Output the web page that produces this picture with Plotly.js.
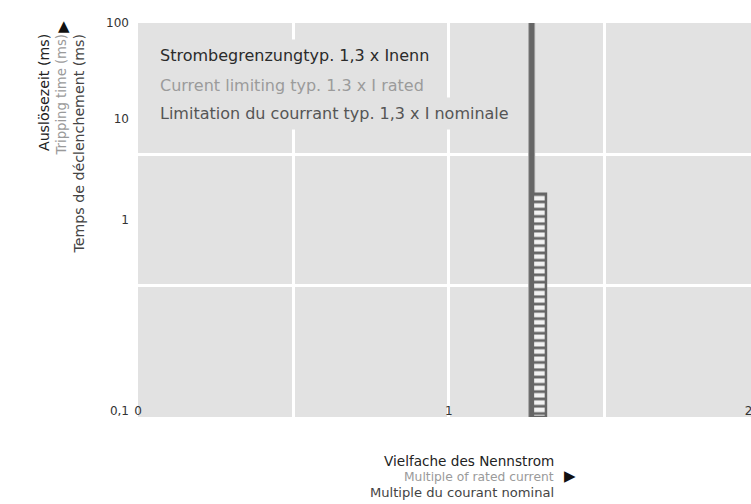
<!DOCTYPE html>
<html>
<head>
<meta charset="utf-8">
<script src="https://cdn.plot.ly/plotly-3.0.1.min.js"></script>
<style>html,body{margin:0;padding:0;background:#fff;}#chart{width:751px;height:504px;}</style>
</head>
<body>
<div id="chart"></div>
<script>
// ---- data ----
const limitLineX = [1.267, 1.267];          // current limiting line (multiple of rated current)
const limitLineY = [0.1, 100];              // spans full tripping-time range (ms)
const bandX = [1.267, 1.267, 1.313, 1.313, 1.267]; // hatched tolerance band outline
const bandY = [0.1, 5.0, 5.0, 0.1, 0.1];           // tripping time (ms)
const xTickVals = [0, 1, 1.965];
const xTickText = ['0', '1', '2'];
const xGridVals = [0.5, 1, 1.5];
const yTickVals = [100, 18.6, 3.2, 0.111];
const yTickText = ['100', '10', '1', '0,1'];
const yGridVals = [1, 10];
const legendLines = ['Strombegrenzungtyp. 1,3 x Inenn', 'Current limiting typ. 1.3 x I rated', 'Limitation du courrant typ. 1,3 x I nominale'];
const yTitleLines = ['Auslösezeit (ms)', 'Tripping time (ms)', 'Temps de déclenchement (ms)'];
const xTitleLines = ['Vielfache des Nennstrom', 'Multiple of rated current', 'Multiple du courant nominal'];

const bg = '#e2e2e2';
const dark = '#666666';

const traces = [
  {x: limitLineX, y: limitLineY, mode: 'lines', line: {color: '#a3a3a3', width: 7}, hoverinfo: 'skip', showlegend: false},
  {x: bandX, y: bandY, mode: 'lines', fill: 'toself', fillcolor: '#f2f2f2',
   fillpattern: {shape: '-', size: 7.3, solidity: 0.38, fgcolor: dark, bgcolor: '#f2f2f2', fillmode: 'replace'},
   line: {color: dark, width: 2.5}, hoverinfo: 'skip', showlegend: false},
  {x: limitLineX, y: limitLineY, mode: 'lines', line: {color: dark, width: 5}, hoverinfo: 'skip', showlegend: false}
];

// pixel helpers for paper-coordinate annotation placement (plot area 137.5..751 x 23..417)
const px = v => (v - 137.5) / 613.5;
const py = v => (417 - v) / 394;

const lineColors = ['#2b2b2b', '#9b9b9b', '#555555'];
const titleColors = ['#222222', '#9a9a9a', '#444444'];
const ann = [];
const legY = [55, 85, 114];
legendLines.forEach((t, i) => ann.push({
  text: t, xref: 'paper', yref: 'paper', x: px(153), y: py(legY[i]), xanchor: 'left', yanchor: 'middle',
  showarrow: false, bgcolor: bg, borderpad: 6, font: {family: 'DejaVu Sans', size: 16, color: lineColors[i]}
}));
const yTX = [44, 61, 78];
const yTSize = [14.2, 13.2, 14.2];
yTitleLines.forEach((t, i) => ann.push({
  text: t, xref: 'paper', yref: 'paper', x: px(yTX[i]), y: py(33), xanchor: 'center', yanchor: 'top', textangle: -90,
  showarrow: false, borderpad: 0, font: {family: 'DejaVu Sans', size: yTSize[i], color: titleColors[i]}
}));
const xTY = [461, 477, 493];
const xTSize = [13.6, 12.3, 13.1];
xTitleLines.forEach((t, i) => ann.push({
  text: t, xref: 'paper', yref: 'paper', x: px(555), y: py(xTY[i]), xanchor: 'right', yanchor: 'middle',
  showarrow: false, borderpad: 0, font: {family: 'DejaVu Sans', size: xTSize[i], color: titleColors[i]}
}));
ann.push({text: '▲', xref: 'paper', yref: 'paper', x: px(63), y: py(26), xanchor: 'center', yanchor: 'middle', showarrow: false, borderpad: 0, font: {family: 'DejaVu Sans', size: 15, color: '#111'}});
ann.push({text: '▶', xref: 'paper', yref: 'paper', x: px(570), y: py(476), xanchor: 'center', yanchor: 'middle', showarrow: false, borderpad: 0, font: {family: 'DejaVu Sans', size: 15, color: '#111'}});

const layout = {
  width: 751, height: 504,
  margin: {l: 137.5, r: 0, t: 23, b: 87, pad: 0},
  paper_bgcolor: '#ffffff', plot_bgcolor: bg,
  showlegend: false,
  xaxis: {
    range: [0, 1.973], tickmode: 'array', tickvals: xTickVals, ticktext: xTickText,
    showgrid: false, zeroline: false, showline: false, ticks: '',
    ticklabelstandoff: -15, ticklabeloverflow: 'allow',
    tickfont: {family: 'DejaVu Sans', size: 12, color: '#333'},
    minor: {tickmode: 'array', tickvals: xGridVals, showgrid: true, gridcolor: '#ffffff', gridwidth: 3, ticks: ''}
  },
  yaxis: {
    type: 'log', range: [-1, 2], tickmode: 'array', tickvals: yTickVals, ticktext: yTickText,
    showgrid: false, zeroline: false, showline: false, ticks: '',
    ticklabelstandoff: 8, ticklabeloverflow: 'allow',
    tickfont: {family: 'DejaVu Sans', size: 12, color: '#333'},
    minor: {tickmode: 'array', tickvals: yGridVals, showgrid: true, gridcolor: '#ffffff', gridwidth: 3.5, ticks: ''}
  },
  annotations: ann
};

Plotly.newPlot('chart', traces, layout, {staticPlot: true, displayModeBar: false});
</script>
</body>
</html>
